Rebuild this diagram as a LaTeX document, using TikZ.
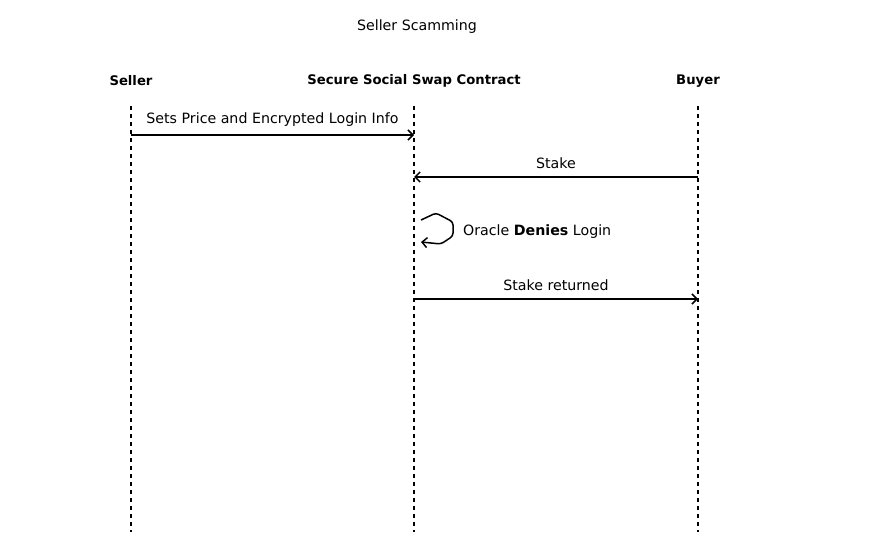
\documentclass[tikz,border=0pt]{standalone}
\usepackage{fontspec}
\setmainfont{DejaVu Sans}
\usetikzlibrary{arrows.meta}
\begin{document}
\begin{tikzpicture}[x=1pt,y=-1pt,
  lifeline/.style={line width=1.5pt,dash pattern=on 4pt off 4pt},
  msg/.style={line width=1.5pt,-{Straight Barb[length=5pt,width=10pt,line width=1.5pt]}},
  actor/.style={font=\bfseries\fontsize{13.2}{15}\selectfont},
  lbl/.style={font=\fontsize{14.2}{16}\selectfont,inner sep=0pt}]
\useasboundingbox (0,0) rectangle (869,554);
\node[lbl] (title) at (417,26.5) {Seller Scamming};
\node[actor] (seller) at (131,81) {Seller};
\node[actor] (contract) at (414,81) {Secure Social Swap Contract};
\node[actor] (buyer) at (698,81) {Buyer};
\coordinate (s1) at (131,106); \coordinate (s2) at (131,532);
\coordinate (c1) at (414,106); \coordinate (c2) at (414,532);
\coordinate (b1) at (698,106); \coordinate (b2) at (698,532);
\draw[lifeline] (s1) -- (s2);
\draw[lifeline] (c1) -- (c2);
\draw[lifeline] (b1) -- (b2);
\coordinate (m1a) at (131,135); \coordinate (m1b) at (414,135);
\draw[msg] (m1a) -- node[lbl,above=8pt] (l1) {Sets Price and Encrypted Login Info} (m1b);
\coordinate (m2a) at (698,177); \coordinate (m2b) at (414,177);
\draw[msg] (m2a) -- node[lbl,above=8pt] (l2) {Stake} (m2b);
\coordinate (m4a) at (414,299); \coordinate (m4b) at (698,299);
\draw[msg] (m4a) -- node[lbl,above=8pt] (l4) {Stake returned} (m4b);
\coordinate (loopA) at (421,220);
\coordinate (loopB) at (421,242);
\draw[msg,rounded corners=3pt] (loopA) -- (436,213) -- (453,222) -- (453,236) -- (441,244) -- (loopB);
\node[lbl,anchor=west] (l3) at (463,232) {Oracle \textbf{Denies} Login};
\end{tikzpicture}
\end{document}
